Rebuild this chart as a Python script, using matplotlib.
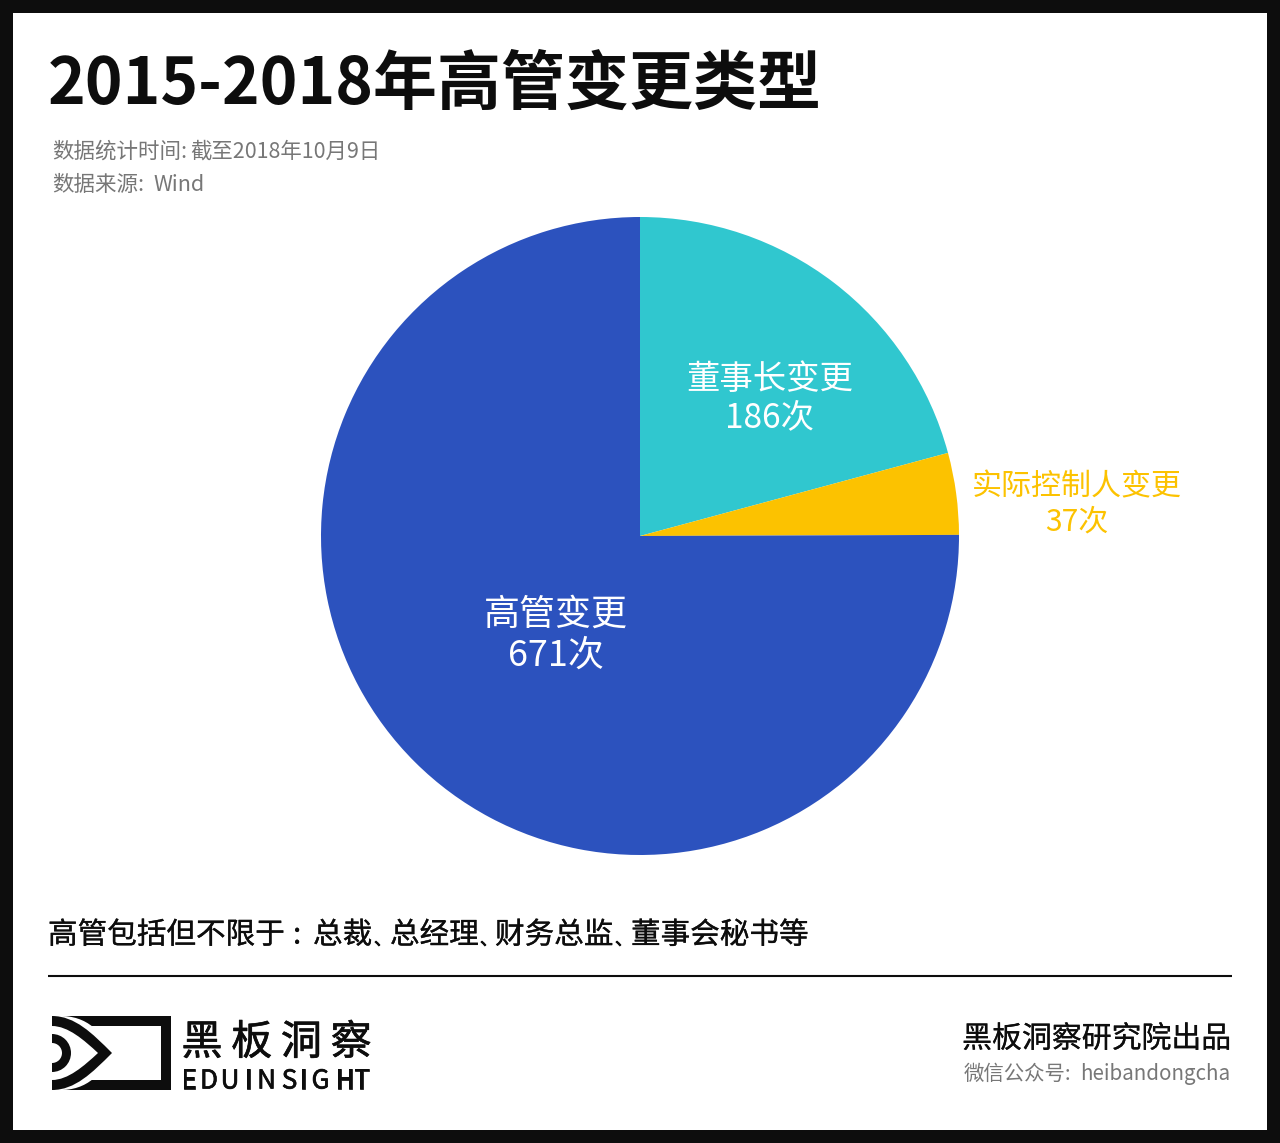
import matplotlib
matplotlib.use('Agg')
import matplotlib.pyplot as plt
import matplotlib.patheffects as pe
from matplotlib.patches import Rectangle, PathPatch, Circle
from matplotlib.path import Path

# values, clockwise from 12 o'clock
labels = ['董事长变更', '实际控制人变更', '高管变更']
counts = [186, 37, 671]
colors = ['#30c7cf', '#fcc200', '#2c52be']
label_colors = ['white', '#fcc200', 'white']

W, H = 1280, 1143
INK = '#0d0d0d'
GREY = '#777777'

plt.rcParams['font.family'] = ['Noto Sans CJK SC', 'DejaVu Sans']


def y(py):
    """Top-down pixel row to data y."""
    return H - py


def put(ax, px, py, s, size, color=INK, ha='left', weight='normal', stroke=0):
    t = ax.text(px, y(py), s, fontsize=size * 0.72, color=color, ha=ha, va='center', fontweight=weight)
    if stroke:
        # the installed CJK font has no medium cut, thicken the regular one
        t.set_path_effects([pe.withStroke(linewidth=stroke, foreground=color)])
    return t


def almond(ax, x0, top, bottom, c1, c2, tip, color):
    """Closed eye shape from the left edge to the tip, symmetric around the tip row."""
    mid = tip[1]
    verts = [(x0, y(top)), (c1[0], y(c1[1])), (c2[0], y(c2[1])), (tip[0], y(mid)),
             (c2[0], y(2 * mid - c2[1])), (c1[0], y(2 * mid - c1[1])), (x0, y(bottom)), (x0, y(top))]
    codes = [Path.MOVETO, Path.CURVE4, Path.CURVE4, Path.CURVE4,
             Path.CURVE4, Path.CURVE4, Path.CURVE4, Path.CLOSEPOLY]
    ax.add_patch(PathPatch(Path(verts, codes), facecolor=color, lw=0))


def draw_logo(ax):
    ax.add_patch(Rectangle((52, y(1090)), 119, 74, color=INK, lw=0))
    ax.add_patch(Rectangle((52, y(1080)), 109, 54, color='white', lw=0))

    # white halo cutting the frame, black band, white inside
    almond(ax, 52, 1016, 1090, (86, 1014), (96, 1028), (118, 1053), 'white')
    almond(ax, 52, 1016, 1090, (75, 1016), (92, 1033), (112, 1053), INK)
    almond(ax, 52, 1026, 1080, (68, 1026), (84, 1040), (98, 1053), 'white')

    clip = Rectangle((52, y(1090)), 60, 74, transform=ax.transData)
    outer = Circle((52, y(1053)), 19, color=INK, lw=0)
    inner = Circle((52, y(1053)), 10, color='white', lw=0)
    for c in (outer, inner):
        ax.add_patch(c)
        c.set_clip_path(clip)


fig = plt.figure(figsize=(W / 100, H / 100), dpi=100, facecolor=INK)
ax = fig.add_axes([0, 0, 1, 1])

ax.add_patch(Rectangle((13, y(1130)), 1254, 1117, color='white', lw=0, zorder=0))

ax.pie(counts, colors=colors, center=(640, y(536)), radius=319, startangle=90,
       counterclock=False, frame=True, wedgeprops={'linewidth': 0})

ax.set_xlim(0, W)
ax.set_ylim(0, H)
ax.axis('off')

# title block
put(ax, 48, 85, '2015-2018年高管变更类型', 64, weight='bold')
put(ax, 52.5, 152, '数据统计时间:', 21.5, GREY)
put(ax, 190.5, 152, '截至2018年10月9日', 21.4, GREY)
put(ax, 52.5, 185, '数据来源:', 21.5, GREY)
put(ax, 153, 185, 'Wind', 21.5, GREY)

# slice labels
put(ax, 770, 379, labels[0], 33.4, label_colors[0], ha='center')
put(ax, 770, 418, f'{counts[0]}次', 33.4, label_colors[0], ha='center')
put(ax, 1077, 487, labels[1], 30, label_colors[1], ha='center')
put(ax, 1077, 522, f'{counts[1]}次', 30, label_colors[1], ha='center')
put(ax, 556, 615, labels[2], 36, label_colors[2], ha='center')
put(ax, 556, 656, f'{counts[2]}次', 36, label_colors[2], ha='center')

# footnote and rule, the commas are set tighter than a full em
for px, part in [(48, '高管包括但不限于'), (313, '总裁'), (390, '总经理'),
                 (495, '财务总监'), (631, '董事会秘书等')]:
    put(ax, px, 935, part, 29.6, stroke=0.2)
put(ax, 293, 935, ':', 29.6, stroke=0.2)
for px in (374, 480, 615):
    put(ax, px, 940, '、', 17.5, stroke=0.6)
ax.plot([48, 1232], [y(976), y(976)], color=INK, lw=1.5, solid_capstyle='butt')

# footer, logo letters placed one by one on their centres
draw_logo(ax)
for i, ch in enumerate('黑板洞察'):
    put(ax, 202 + i * 49.7, 1043, ch, 41, stroke=0.5, ha='center')
for px, ch in zip((189, 209, 230, 248.5, 266.5, 289.5, 303.5, 320.5, 345, 361.5), 'EDUINSIGHT'):
    put(ax, px, 1081, ch, 26, stroke=0.5, ha='center')
put(ax, 1231, 1039, '黑板洞察研究院出品', 29.9, ha='right', stroke=0.15)
put(ax, 964, 1074, '微信公众号:', 20.4, GREY)
put(ax, 1230, 1074, 'heibandongcha', 20.5, GREY, ha='right')

fig.savefig('out.png', dpi=100, facecolor=fig.get_facecolor())
